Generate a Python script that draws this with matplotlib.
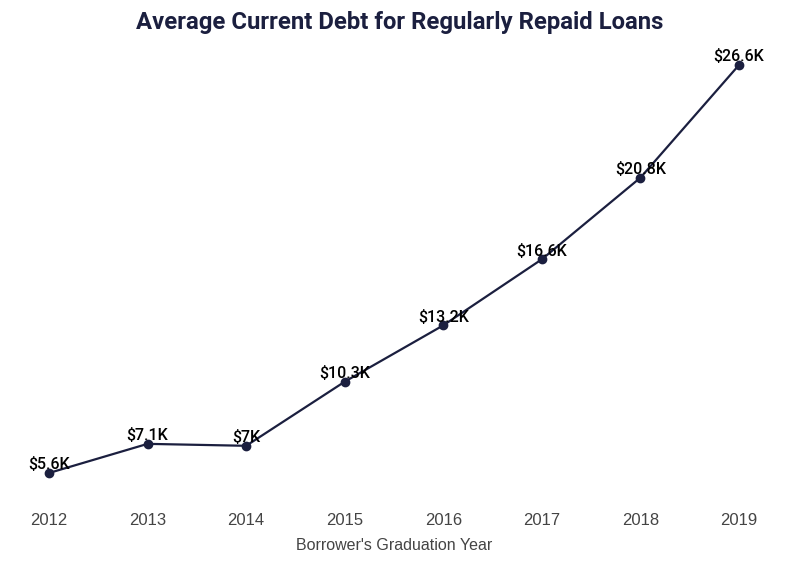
import matplotlib.pyplot as plt

years = [2012, 2013, 2014, 2015, 2016, 2017, 2018, 2019]
debt_k = [5.6, 7.1, 7.0, 10.3, 13.2, 16.6, 20.8, 26.6]
labels = ["$5.6K", "$7.1K", "$7K", "$10.3K", "$13.2K", "$16.6K", "$20.8K", "$26.6K"]

navy = "#1b1f3f"

fig = plt.figure(figsize=(8, 5.65), dpi=100)
ax = fig.add_axes([49 / 800, 92 / 565, 690 / 800, 408 / 565])

ax.plot(years, debt_k, color=navy, linewidth=1.6, marker="o", markersize=6,
        clip_on=False, zorder=3)

for x, y, s in zip(years, debt_k, labels):
    ax.annotate(s, (x, y), xytext=(0, 0.5), textcoords="offset points",
                ha="center", va="bottom", fontsize=11.5, family="Roboto",
                fontweight="medium", color="black", zorder=4)

ax.set_xlim(2012, 2019)
ax.set_ylim(5.6, 26.6)
ax.set_xticks(years)
ax.set_xticklabels([str(y) for y in years], family="Liberation Sans",
                   fontsize=12, color="#444444")
ax.set_yticks([])
ax.tick_params(axis="x", length=0, pad=29)
for sp in ax.spines.values():
    sp.set_visible(False)

ax.set_xlabel("Borrower's Graduation Year", family="Liberation Sans",
              fontsize=11.5, color="#444444", labelpad=7)

fig.text(0.5, 1 - 22 / 565, "Average Current Debt for Regularly Repaid Loans",
         ha="center", va="center", family="Roboto", fontweight="bold",
         fontsize=17.2, color=navy)

fig.savefig("out.png", dpi=100)
